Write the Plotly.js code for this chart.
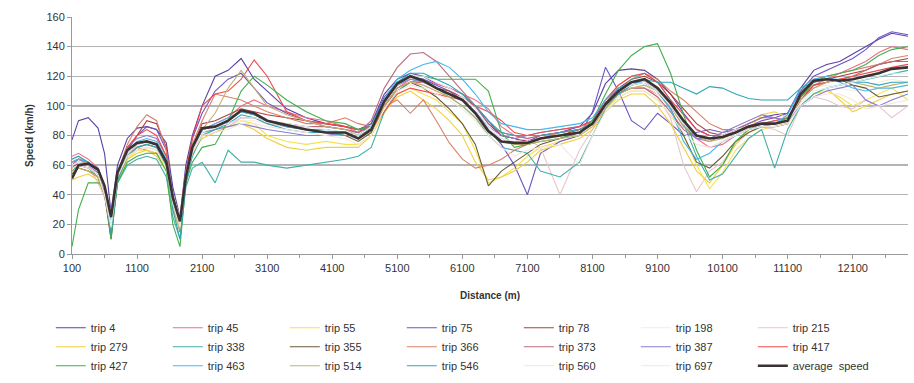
<!DOCTYPE html>
<html>
<head>
<meta charset="utf-8">
<script src="https://cdn.plot.ly/plotly-3.0.1.min.js"></script>
<style>html,body{margin:0;padding:0;background:#fff;}#chart{width:914px;height:383px;}</style>
</head>
<body>
<div id="chart"></div>
<script>
// Distance (m) sample points shared by all series
const distance = [100,200,350,500,600,700,800,950,1100,1250, 1400,1550,1650,1760,1850,1950,2100,2300,2500,2700, 2900,3100,3400,3700,4000,4300,4500,4700,4900,5100, 5300,5500,5700,5900,6100,6300,6500,6700,6900,7100, 7300,7600,7900,8100,8300,8500,8700,8900,9100,9300, 9500,9700,9900,10100,10300,10500,10700,10900,11100,11300, 11500,11700,11900,12100,12300,12500,12700,12950];

const trip4   = [77,90,92,85,68,28,60,78,85,86, 84,75,45,25,60,80,100,120,124,132, 118,110,98,92,88,86,84,88,108,118, 122,120,115,112,108,100,88,80,78,76, 80,82,86,95,115,124,125,124,118,108, 95,84,80,80,84,88,92,94,95,112, 124,128,130,135,140,145,149,147];
const trip45  = [66,68,64,58,45,20,50,68,72,70, 68,60,35,20,50,70,84,88,92,100, 104,100,96,92,90,86,82,86,100,112, 118,118,115,112,108,104,98,86,80,78, 80,82,84,88,100,108,112,112,108,100, 88,78,72,74,80,84,88,90,92,104, 114,118,122,126,130,136,140,138];
const trip55  = [55,58,56,52,40,15,48,64,70,70, 68,58,30,15,48,68,80,84,86,90, 88,80,76,74,76,74,74,80,95,108, 112,108,104,96,88,70,48,52,58,66, 72,76,80,86,98,106,110,110,104,94, 80,60,44,55,70,78,84,86,88,100, 108,110,106,100,104,108,112,104];
const trip75  = [62,64,62,58,46,22,52,70,80,86, 84,70,40,18,55,78,95,110,118,122, 112,102,95,90,86,84,82,88,106,116, 120,118,114,110,104,96,84,74,60,40, 68,76,80,96,126,110,90,84,95,88, 80,82,84,82,84,86,90,92,95,110, 120,124,128,132,138,146,150,148];
const trip78  = [58,62,60,55,42,12,50,70,80,90, 88,72,35,15,52,72,88,90,94,98, 96,94,92,90,88,86,84,86,100,110, 116,116,112,110,106,100,90,80,78,76, 78,80,84,88,102,112,118,120,116,108, 98,88,82,80,82,86,88,88,90,106, 116,118,120,122,124,128,130,132];
const trip198 = [60,62,60,56,44,22,55,68,72,74, 72,62,40,24,55,72,82,84,86,90, 90,88,86,84,82,80,78,82,100,112, 116,114,110,106,100,92,82,76,74,74, 76,78,80,86,98,108,112,114,108,98, 88,80,76,78,80,84,86,86,88,104, 112,114,112,110,112,116,118,116];
const trip215 = [64,66,60,48,38,30,52,66,70,72, 70,60,38,26,52,70,80,82,86,92, 92,88,86,84,82,80,78,84,102,114, 118,116,112,108,104,96,84,78,76,78, 72,40,70,84,100,108,112,112,106,92, 60,42,56,62,74,82,86,84,80,100, 106,104,100,98,104,100,92,100];
const trip279 = [50,52,54,50,40,18,50,64,68,70, 66,56,30,16,50,68,78,82,86,88, 84,78,72,70,72,72,72,80,96,106, 110,104,98,90,80,62,50,52,56,62, 70,74,78,84,96,104,108,108,100,88, 72,56,48,60,74,84,94,96,92,100, 108,112,104,96,100,104,108,110];
const trip338 = [56,60,58,52,40,14,48,60,64,66, 64,52,25,10,45,58,62,48,70,62, 62,60,58,60,62,64,66,72,96,110, 116,118,112,106,100,92,80,72,70,68, 56,52,62,80,98,110,118,122,116,104, 88,66,50,54,66,78,84,58,84,100, 108,112,114,116,118,120,122,124];
const trip355 = [54,58,56,52,40,10,50,68,74,76, 74,62,36,20,55,74,84,86,90,96, 94,90,86,84,82,80,76,82,100,112, 116,112,106,98,88,74,46,56,62,68, 74,78,82,88,100,108,114,116,110,98, 80,62,58,66,76,82,86,86,88,104, 114,116,118,114,112,106,108,110];
const trip366 = [62,64,60,56,42,20,55,74,86,94, 90,70,38,20,55,74,90,108,106,104, 100,96,92,88,88,92,88,86,100,104, 95,104,90,75,64,58,60,64,70,74, 78,82,84,90,104,114,120,122,118,110, 104,96,88,84,84,86,88,88,90,106, 118,120,122,124,126,128,132,134];
const trip373 = [58,60,58,54,42,18,50,66,72,74, 72,60,34,18,52,70,84,86,88,92, 92,90,88,86,86,84,82,90,112,126, 135,136,130,120,110,100,88,82,80,78, 80,82,84,88,100,108,112,112,106,96, 84,78,76,80,84,88,92,92,90,104, 112,116,118,120,124,128,130,130];
const trip387 = [60,62,60,55,44,22,55,72,78,80, 78,66,40,22,56,72,82,84,86,88, 86,84,82,80,80,82,80,86,104,114, 118,116,112,108,104,96,86,80,78,80, 82,84,86,90,104,112,116,116,110,100, 86,78,78,82,86,90,94,92,90,100, 106,110,112,114,104,100,104,108];
const trip417 = [60,64,62,56,42,15,52,72,80,84, 80,66,35,18,55,78,100,108,110,118, 131,120,96,90,88,86,84,84,96,108, 112,110,108,106,104,100,96,90,82,80, 82,84,86,90,104,114,120,122,116,104, 94,84,80,80,82,86,88,90,92,106, 114,116,118,120,122,124,126,128];
const trip427 = [5,30,48,48,45,10,48,62,66,68, 68,56,20,5,48,62,72,74,90,110, 120,114,104,96,90,88,84,86,104,116, 120,120,118,118,118,118,110,82,72,74, 76,78,82,90,108,124,134,140,142,122, 94,70,52,60,76,84,86,88,92,106, 116,120,122,124,128,134,138,140];
const trip463 = [62,64,62,56,44,20,54,70,76,78, 76,64,34,16,52,70,84,88,92,96, 94,90,86,84,84,82,80,86,104,118, 124,128,130,126,118,108,96,88,86,84, 84,86,88,92,104,112,116,116,110,98, 76,64,68,76,80,84,86,88,94,112, 118,120,116,112,110,112,112,114];
const trip514 = [56,58,56,52,40,16,50,66,72,74, 72,60,32,16,52,70,84,95,112,124, 112,100,94,90,86,84,80,84,100,112, 116,114,110,106,100,92,82,76,74,74, 76,78,80,86,98,108,112,114,110,100, 86,80,76,78,82,86,88,88,90,104, 112,116,118,116,114,112,114,116];
const trip546 = [64,66,62,56,44,14,50,66,72,74, 72,60,30,10,48,66,80,84,88,94, 92,88,84,82,82,80,80,86,104,116, 122,122,118,114,108,100,90,82,80,80, 80,82,84,88,100,108,114,118,116,116, 112,108,113,112,108,105,104,104,104,112, 116,118,118,116,116,114,116,116];
const trip560 = [58,60,58,54,40,18,52,66,70,72, 70,58,34,18,52,68,80,82,84,88, 88,86,84,82,80,78,74,80,98,110, 114,112,108,104,98,90,80,72,66,70, 72,74,60,80,96,106,110,110,104,94, 82,74,72,76,80,84,86,86,88,100, 106,108,108,104,98,100,102,104];
const trip697 = [60,62,60,56,44,20,54,68,74,76, 74,62,38,20,54,70,82,86,88,92, 92,90,88,86,84,82,80,86,102,114, 120,120,116,112,106,98,86,78,76,76, 78,80,82,88,100,110,114,116,110,100, 88,80,78,80,84,86,88,88,90,102, 110,112,114,116,118,120,122,122];
const averageSpeed = [51,60,61,57,46,25,55,70,75,76, 74,62,38,22,52,72,85,86,90,97, 95,90,87,84,82,82,78,84,103,115, 120,117,112,108,104,95,83,76,75,75, 78,80,82,88,101,110,116,118,112,102, 90,80,78,79,82,86,88,88,90,108, 117,118,117,118,120,122,125,126];

const seriesNames = ['trip 4','trip 45','trip 55','trip 75','trip 78','trip 198','trip 215',
  'trip 279','trip 338','trip 355','trip 366','trip 373','trip 387','trip 417',
  'trip 427','trip 463','trip 514','trip 546','trip 560','trip 697'];
const seriesData = [trip4,trip45,trip55,trip75,trip78,trip198,trip215,trip279,trip338,trip355,
  trip366,trip373,trip387,trip417,trip427,trip463,trip514,trip546,trip560,trip697];
const seriesColors = ['#5b40a8','#ee7088','#f3e24c','#6c54c4','#b03c3c','#f3eed8','#e8c6ca',
  '#f0cf42','#40b0a8','#6a5a3c','#d8826a','#b86c7c','#8c7ad2','#f04a4a',
  '#40b04e','#44b8ee','#c2b272','#30a6b6','#f1e6de','#e2edf4'];

const traces = seriesNames.map((n,i)=>({
  type:'scatter', mode:'lines', name:n, x:distance, y:seriesData[i],
  line:{color:seriesColors[i], width:1.1}
}));
traces.push({type:'scatter', mode:'lines', name:'average\u00a0 speed', x:distance, y:averageSpeed,
  line:{color:'#3a3232', width:2.6}});

const font = 'Liberation Sans, Arial, sans-serif';
const layout = {
  width:914, height:383,
  margin:{l:72, r:6, t:17, b:129},
  paper_bgcolor:'#fff', plot_bgcolor:'#fff',
  font:{family:font, size:11, color:'#333'},
  showlegend:true,
  legend:{orientation:'h', x:0.0556, xanchor:'left', xref:'container',
    y:0.182, yanchor:'top', yref:'container',
    entrywidth:72, entrywidthmode:'pixels', font:{size:11, color:'#333'},
    traceorder:'normal', itemwidth:30, bgcolor:'rgba(0,0,0,0)'},
  xaxis:{range:[100,12950], tickmode:'linear', tick0:100, dtick:1000, tickformat:'d',
    ticks:'outside', ticklen:4, tickcolor:'#999', showline:true, linecolor:'#999', linewidth:1,
    showgrid:false, zeroline:false,
    minor:{tick0:100, dtick:500, ticks:'outside', ticklen:3, tickcolor:'#999', showgrid:false},
    tickfont:{size:11, color:'#333'},
    title:{text:'<b>Distance (m)</b>', font:{size:10, color:'#333'}, standoff:18}},
  yaxis:{range:[0,160], tickmode:'linear', tick0:0, dtick:20,
    ticks:'outside', ticklen:4, tickcolor:'#999', showline:true, linecolor:'#999', linewidth:1,
    showgrid:true, gridcolor:'#b4b4b4', gridwidth:1.4, zeroline:false,
    tickfont:{size:11, color:'#333'},
    title:{text:'<b>Speed (km/h)</b>', font:{size:10, color:'#333'}, standoff:10}}
};
Plotly.newPlot('chart', traces, layout, {displayModeBar:false, staticPlot:true});
</script>
</body>
</html>
